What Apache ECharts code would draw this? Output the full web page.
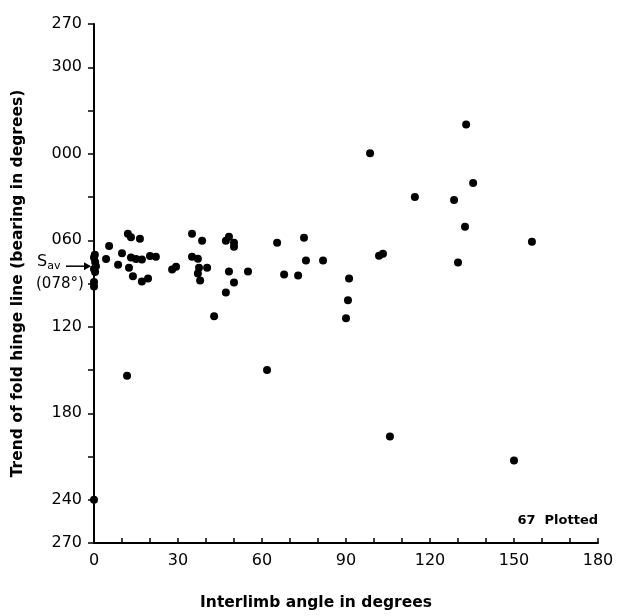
<!DOCTYPE html>
<html>
<head>
<meta charset="utf-8">
<script src="https://cdn.jsdelivr.net/npm/echarts@6/dist/echarts.min.js"></script>
<style>
html,body{margin:0;padding:0;background:#fff;}
#chart{width:617px;height:616px;}
</style>
</head>
<body>
<div id="chart"></div>
<script>
// Interlimb angle (degrees)
const interlimbAngle = [
  0, 0.4, 0.7, 0, 0.4, 0, 0, 0,
  4.3, 5.4, 8.6, 10, 12.1, 13.2, 16.4, 13.2, 15, 17.1, 12.5, 13.9, 20, 22.1, 17.1, 19.3, 11.8,
  35, 38.6, 47.1, 48.2, 50, 50, 35, 37.1, 27.9, 29.3, 37.5, 40.4, 37.1, 37.9, 48.2, 50, 47.1, 55, 42.9,
  65.4, 75, 75.7, 81.8, 67.9, 72.9, 61.8,
  91.1, 90.7, 90, 101.8, 103.2, 130, 132.5, 156.4, 132.9, 98.6, 135.4, 114.6, 128.6, 105.7, 150, 0.3
];
// Trend of fold hinge line, as continuous value (bearing; negative = 270..359)
const hingeTrend = [
  72, 75, 78, 80, 82, 89, 92, 240,
  73, 64, 77, 69, 55.5, 58, 59, 72, 73, 73.4, 79, 85, 71, 71.4, 88.6, 86.6, 154,
  55.5, 60.3, 60.3, 57.6, 61.7, 64.5, 71.4, 72.8, 80.3, 78.3, 79, 79, 83.1, 87.9, 81.7, 89.3, 96.2, 81.7, 112.8,
  61.7, 58.3, 74.1, 74.1, 83.8, 84.5, 150,
  86.6, 101.7, 114.1, 70.7, 69.3, 75.5, 50.7, 61, -20.3, -0.3, 20.3, 30, 32.1, 196.2, 212.8, 70
];
// Labelled y ticks (continuous values) and x tick labels
const yLabelValues = [-90, -60, 0, 60, 120, 180, 240, 270];
const xLabelValues = [0, 30, 60, 90, 120, 150, 180];
const averageTrend = 78;

const points = interlimbAngle.map((x, i) => [x, hingeTrend[i]]);
const FONT = 'DejaVu Sans';

function bearingText(v) {
  const b = ((Math.round(v) % 360) + 360) % 360;
  return String(b).padStart(3, '0');
}

const chart = echarts.init(document.getElementById('chart'), null, {renderer: 'canvas'});
chart.setOption({
  backgroundColor: '#fff',
  animation: false,
  grid: {left: 94, right: 19, top: 24, bottom: 70, containLabel: false},
  xAxis: {
    type: 'value', min: 0, max: 180, interval: 10,
    name: 'Interlimb angle in degrees',
    nameLocation: 'middle', nameGap: 52,
    nameTextStyle: {fontFamily: FONT, fontSize: 15.5, fontWeight: 'bold', color: '#000', padding: [0, 60, 0, 0]},
    axisLine: {onZero: false, lineStyle: {color: '#000', width: 2}},
    axisTick: {inside: true, length: 5, lineStyle: {color: '#000', width: 1.5}},
    axisLabel: {
      margin: 10, fontFamily: FONT, fontSize: 16, color: '#000',
      formatter: v => xLabelValues.includes(v) ? String(v) : ''
    },
    splitLine: {show: false}
  },
  yAxis: {
    type: 'value', min: -90, max: 270, interval: 30, inverse: true,
    name: 'Trend of fold hinge line (bearing in degrees)',
    nameLocation: 'middle', nameGap: 68, nameRotate: 90,
    nameTextStyle: {fontFamily: FONT, fontSize: 15.5, fontWeight: 'bold', color: '#000'},
    axisLine: {onZero: false, lineStyle: {color: '#000', width: 2}},
    axisTick: {inside: false, length: 6, lineStyle: {color: '#000', width: 1.5}},
    axisLabel: {
      margin: 12, fontFamily: FONT, fontSize: 16, color: '#000',
      formatter: v => yLabelValues.includes(v) ? bearingText(v) : ''
    },
    splitLine: {show: false}
  },
  series: [{
    type: 'scatter',
    data: points,
    symbol: 'circle',
    symbolSize: 8,
    clip: false,
    itemStyle: {color: '#000', opacity: 1}
  }]
});

const yAv = chart.convertToPixel({yAxisIndex: 0}, averageTrend);
const x0 = chart.convertToPixel({xAxisIndex: 0}, 0);
chart.setOption({
  graphic: [
    {
      type: 'text', left: 37, top: yAv - 12,
      style: {
        text: '{s|S}{sub|av}',
        rich: {
          s: {fontFamily: FONT, fontSize: 16, fill: '#000'},
          sub: {fontFamily: FONT, fontSize: 11, fill: '#000', verticalAlign: 'bottom', padding: [8, 0, 0, 0]}
        }
      }
    },
    {
      type: 'line',
      shape: {x1: 66, y1: yAv, x2: x0 - 8, y2: yAv},
      style: {stroke: '#000', lineWidth: 1.5}
    },
    {
      type: 'polygon',
      shape: {points: [[x0 - 3, yAv], [x0 - 10, yAv - 4], [x0 - 10, yAv + 4]]},
      style: {fill: '#000'}
    },
    {
      type: 'text', left: 36, top: yAv + 10,
      style: {text: '(078°)', fontFamily: FONT, fontSize: 15, fill: '#000'}
    },
    {
      type: 'text', right: 19, top: 514,
      style: {text: '67  Plotted', fontFamily: FONT, fontSize: 13, fontWeight: 'bold', fill: '#000'}
    }
  ]
});
</script>
</body>
</html>
